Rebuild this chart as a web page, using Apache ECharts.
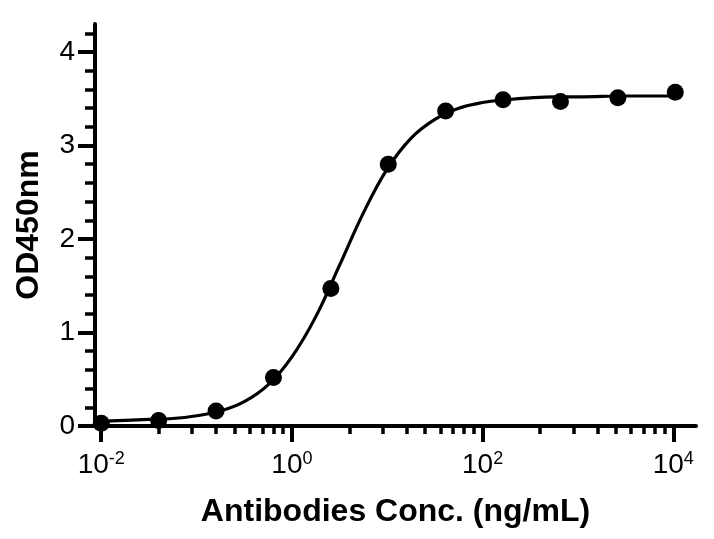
<!DOCTYPE html>
<html><head><meta charset="utf-8">
<script src="https://cdn.jsdelivr.net/npm/echarts@6/dist/echarts.min.js"></script>
<style>html,body{margin:0;padding:0;background:#fff}#c{width:714px;height:539px}</style>
</head><body><div id="c"></div>
<script>
// measured data points (4-fold dilution series)
const concentrations = [0.01, 0.04, 0.16, 0.64, 2.56, 10.24, 40.96, 163.84, 655.36, 2621.44, 10485.76];
const od450 = [0.03, 0.06, 0.16, 0.52, 1.47, 2.80, 3.37, 3.49, 3.47, 3.51, 3.57];
// fitted curve
const curveConc = [0.01, 0.0178, 0.0316, 0.0562, 0.1, 0.178, 0.316, 0.562, 1, 1.78, 3.16, 5.62, 10, 17.8, 31.6, 56.2, 100, 178, 316, 562, 1000, 3160, 10485.76];
const curveOD = [0.05, 0.06, 0.07, 0.08, 0.11, 0.16, 0.26, 0.44, 0.74, 1.17, 1.72, 2.28, 2.75, 3.08, 3.28, 3.40, 3.46, 3.49, 3.51, 3.52, 3.52, 3.53, 3.53];
// axis ticks
const xMajorTicks = [0.01, 1, 100, 10000];
const xMinorTicks = [0.04, 0.09, 0.16, 0.25, 0.36, 0.49, 0.64, 0.81, 4, 9, 16, 25, 36, 49, 64, 81, 400, 900, 1600, 2500, 3600, 4900, 6400, 8100];
const yMajorTicks = [0, 1, 2, 3, 4];
const yMinorTicks = [0.2, 0.4, 0.6, 0.8, 1.2, 1.4, 1.6, 1.8, 2.2, 2.4, 2.6, 2.8, 3.2, 3.4, 3.6, 3.8, 4.2];
const xTitle = 'Antibodies Conc. (ng/mL)';
const yTitle = 'OD450nm';

const FONT = 'Liberation Sans, Arial, Helvetica, sans-serif';
const xMin = 0.0086, xMax = 17300, yMin = 0, yMax = 4.3;

const chart = echarts.init(document.getElementById('c'), null, {renderer: 'canvas'});
const axisLineStyle = {color: '#000', width: 4};
chart.setOption({
  animation: false,
  backgroundColor: '#fff',
  grid: {left: 95, right: 18, top: 24, bottom: 113, containLabel: false, outerBoundsMode: 'none'},
  xAxis: [
    {
      type: 'log', logBase: 10, min: xMin, max: xMax, position: 'bottom',
      axisLine: {show: true, onZero: false, lineStyle: axisLineStyle},
      axisTick: {show: true, customValues: xMajorTicks, length: 16, lineStyle: {color: '#000', width: 4}},
      minorTick: {show: false},
      splitLine: {show: false},
      axisLabel: {
        customValues: xMajorTicks, margin: 24, color: '#000', fontFamily: FONT, fontSize: 28, lineHeight: 30,
        formatter: function (v) { return '10{sup|' + Math.round(Math.log10(v)) + '}'; },
        rich: {sup: {fontFamily: FONT, fontSize: 18, color: '#000', verticalAlign: 'top', lineHeight: 22}}
      },
      name: xTitle, nameLocation: 'middle', nameGap: 70,
      nameTextStyle: {color: '#000', fontFamily: FONT, fontSize: 32, fontWeight: 'bold'}
    },
    {
      type: 'log', logBase: 10, min: xMin, max: xMax, position: 'bottom',
      axisLine: {show: false},
      axisTick: {show: true, customValues: xMinorTicks, length: 8, lineStyle: {color: '#000', width: 3.5}},
      axisLabel: {show: false},
      splitLine: {show: false}
    }
  ],
  yAxis: [
    {
      type: 'value', min: yMin, max: yMax, interval: 1, position: 'left',
      axisLine: {show: true, onZero: false, lineStyle: axisLineStyle},
      axisTick: {show: true, customValues: yMajorTicks, length: 17, lineStyle: {color: '#000', width: 4}},
      splitLine: {show: false},
      axisLabel: {customValues: yMajorTicks, margin: 20, color: '#000', fontFamily: FONT, fontSize: 28},
      name: yTitle, nameLocation: 'middle', nameGap: 50, nameRotate: 90,
      nameTextStyle: {color: '#000', fontFamily: FONT, fontSize: 32, fontWeight: 'bold'}
    },
    {
      type: 'value', min: yMin, max: yMax, position: 'left',
      axisLine: {show: false},
      axisTick: {show: true, customValues: yMinorTicks, length: 10, lineStyle: {color: '#000', width: 3.5}},
      axisLabel: {show: false},
      splitLine: {show: false}
    }
  ],
  series: [
    {
      type: 'line', xAxisIndex: 0, yAxisIndex: 0,
      data: curveConc.map((c, i) => [c, curveOD[i]]),
      smooth: 0.4, showSymbol: false, clip: false, silent: true, z: 2,
      lineStyle: {color: '#000', width: 3.2}
    },
    {
      type: 'scatter', xAxisIndex: 0, yAxisIndex: 0,
      data: concentrations.map((c, i) => [c, od450[i]]),
      symbol: 'circle', symbolSize: 17, clip: false, z: 3,
      itemStyle: {color: '#000', opacity: 1}
    }
  ]
});
</script>
</body></html>
